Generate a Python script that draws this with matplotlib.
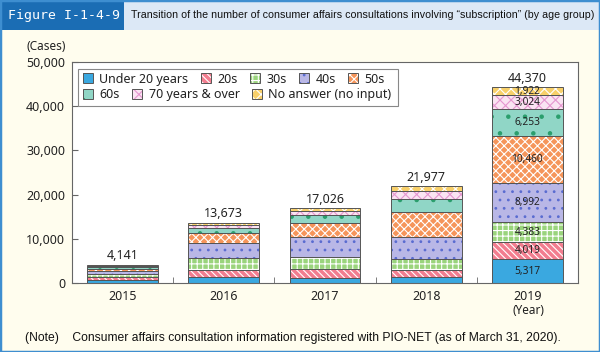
# Consumer affairs consultations involving "subscription" by age group
# Stacked bar chart recreation

import matplotlib
matplotlib.use('Agg')
import matplotlib.pyplot as plt
from matplotlib.patches import Patch, Rectangle
from matplotlib.ticker import FuncFormatter

# Data (cases)
years = ['2015', '2016', '2017', '2018', '2019']
groups = ['Under 20 years', '20s', '30s', '40s', '50s',
          '60s', '70 years & over', 'No answer (no input)']

under20 = [750, 1250, 1050, 1250, 5317]
age20s = [600, 1750, 2030, 1750, 4019]
age30s = [600, 2550, 2860, 2350, 4383]
age40s = [750, 3540, 4360, 4950, 8992]
age50s = [500, 2200, 3310, 5700, 10460]
age60s = [350, 1100, 1730, 3100, 6253]
age70plus = [300, 650, 900, 1750, 3024]
no_answer = [291, 633, 786, 1127, 1922]
totals = [4141, 13673, 17026, 21977, 44370]

series = [under20, age20s, age30s, age40s, age50s, age60s, age70plus, no_answer]

# face colour, hatch colour, hatch pattern
styles = [
    ('#3aa8e0', '#3aa8e0', None),
    ('#f27d8f', '#ffffff', '\\\\\\\\\\'),
    ('#9ad47c', '#ffffff', '+++'),
    ('#b9b7e6', '#5a6cd0', '..'),
    ('#f5955a', '#ffffff', 'xxxx'),
    ('#90d6c6', '#2a9e6c', '.'),
    ('#fae4f2', '#e596cf', 'xxx'),
    ('#f8d06a', '#ffffff', 'xxx'),
]

EDGE = '#555555'
CREAM = '#fffdee'
BLUE = '#3e8ed0'
TEXT = '#222222'

plt.rcParams['font.family'] = ['Noto Sans', 'DejaVu Sans']
plt.rcParams['hatch.linewidth'] = 0.8
NARROW = ['Liberation Sans', 'DejaVu Sans']

fig = plt.figure(figsize=(6, 3.52), dpi=100, facecolor=CREAM)
ax = fig.add_axes([72 / 600, 1 - 283 / 352, 506 / 600, 221 / 352])
ax.set_facecolor('white')

x = list(range(len(years)))
bottom = [0] * len(years)
handles = []
for vals, (face, hcol, hatch) in zip(series, styles):
    ax.bar(x, vals, width=0.7, bottom=bottom, color=face, edgecolor=hcol,
           hatch=hatch, linewidth=0)
    ax.bar(x, vals, width=0.7, bottom=bottom, fill=False, edgecolor=EDGE,
           linewidth=0.7)
    # value labels inside the 2019 bar
    ax.text(x[-1], bottom[-1] + vals[-1] / 2, f'{vals[-1]:,}', ha='center',
            va='center', fontsize=7.3, color=TEXT)
    bottom = [b + v for b, v in zip(bottom, vals)]
    handles.append((Patch(facecolor=face, edgecolor=hcol, hatch=hatch, linewidth=0),
                    Patch(fill=False, edgecolor=EDGE, linewidth=0.7)))

for xi, top, t in zip(x, bottom, totals):
    ax.text(xi, top + 500, f'{t:,}', ha='center', va='bottom', fontsize=9, color=TEXT)

ax.set_xlim(-0.5, len(years) - 0.5)
ax.set_ylim(0, 50000)
ax.set_yticks(range(0, 50001, 10000))
ax.yaxis.set_major_formatter(FuncFormatter(lambda v, p: f'{int(v):,}'))
ax.set_xticks(x)
ax.set_xticklabels(years)
ax.set_xticks([i + 0.5 for i in x[:-1]], minor=True)
ax.tick_params(axis='x', which='major', length=0, pad=5, labelsize=9, labelcolor=TEXT)
ax.tick_params(axis='x', which='minor', direction='in', length=4, color='#666666')
ax.tick_params(axis='y', direction='in', length=4, color='#666666', labelsize=9,
               labelcolor=TEXT, pad=5)
for s in ax.spines.values():
    s.set_color('#666666')
    s.set_linewidth(0.8)

# legend: two rows with their own spacing, inside a single frame
ax.add_patch(Rectangle((0.012, 0.801), 0.632, 0.167, transform=ax.transAxes,
                       facecolor='white', edgecolor='#888888', linewidth=0.8, zorder=4))
leg_kw = dict(loc='center left', frameon=False, fontsize=9, handlelength=0.8,
              handleheight=0.8, handletextpad=0.5, columnspacing=1.0,
              borderpad=0, borderaxespad=0, labelcolor=TEXT)
leg1 = ax.legend(handles[:5], groups[:5], ncol=5, bbox_to_anchor=(0.022, 0.923), **leg_kw)
leg1.set_zorder(5)
ax.add_artist(leg1)
leg2 = ax.legend(handles[5:], groups[5:], ncol=3, bbox_to_anchor=(0.022, 0.851), **leg_kw)
leg2.set_zorder(5)

fig.text(46 / 600, 1 - 47 / 352, '(Cases)', ha='center', va='center', fontsize=8.5, color=TEXT)
fig.text(528 / 600, 1 - 311 / 352, '(Year)', ha='center', va='center', fontsize=8.5, color=TEXT)

# header band
fig.patches.append(Rectangle((0, 1 - 30 / 352), 1, 30 / 352, transform=fig.transFigure,
                             facecolor='#dce8f6', edgecolor='none'))
fig.patches.append(Rectangle((0, 1 - 30 / 352), 124 / 600, 30 / 352, transform=fig.transFigure,
                             facecolor='#1b6db4', edgecolor='none'))
fig.text(8 / 600, 1 - 15 / 352, 'Figure I-1-4-9', ha='left', va='center', fontsize=9.5,
         family='DejaVu Sans Mono', color='white')
fig.text(131 / 600, 1 - 15 / 352,
         'Transition of the number of consumer affairs consultations involving \u201csubscription\u201d (by age group)',
         ha='left', va='center', fontsize=7.7, family=NARROW, color='#111111')

fig.text(25 / 600, 1 - 338 / 352,
         '(Note)    Consumer affairs consultation information registered with PIO-NET (as of March 31, 2020).',
         ha='left', va='center', fontsize=8.7, family=NARROW, color='#111111')

# outer frame
fig.patches.append(Rectangle((0, 0), 1, 1, transform=fig.transFigure, fill=False,
                             edgecolor=BLUE, linewidth=2.5))

fig.savefig('out.png', dpi=100, facecolor=CREAM)
